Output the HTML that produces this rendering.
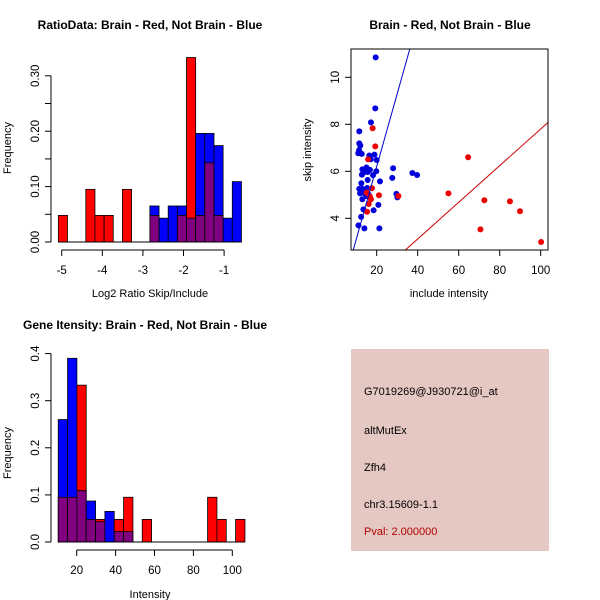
<!DOCTYPE html>
<html><head><meta charset="utf-8">
<style>
html,body{margin:0;padding:0;background:#fff;}
svg{display:block;font-family:"Liberation Sans",sans-serif;}
</style></head>
<body>
<svg id="c" width="600" height="600" viewBox="0 0 600 600" xmlns="http://www.w3.org/2000/svg">
<rect width="600" height="600" fill="#fff"/>
<text x="150" y="29" text-anchor="middle" font-size="12" font-weight="bold">RatioData: Brain - Red, Not Brain - Blue</text>
<text x="450" y="29" text-anchor="middle" font-size="12" font-weight="bold">Brain - Red, Not Brain - Blue</text>
<text x="145" y="329" text-anchor="middle" font-size="12" font-weight="bold">Gene Itensity: Brain - Red, Not Brain - Blue</text>
<g id="h1"></g>
<g id="sc"></g>
<g id="h2"></g>
<g>
<rect x="351" y="349" width="198" height="202" fill="#e6c8c2"/>
<text x="364" y="395" font-size="11">G7019269@J930721@i_at</text>
<text x="364" y="434" font-size="11">altMutEx</text>
<text x="364" y="471" font-size="11">Zfh4</text>
<text x="364" y="508" font-size="11">chr3.15609-1.1</text>
<text x="364" y="535" font-size="11" fill="#b00000">Pval: 2.000000</text>
</g>
</svg>
<script>
// Ratio histogram data
const h1Start = -5.083, h1Width = 0.2255;
const h1Red = [0.048,0,0,0.095,0.048,0.048,0,0.095,0,0,0.048,0,0,0.048,0.333,0.048,0.143,0.048,0,0];
const h1Blue = [0,0,0,0,0,0,0,0,0,0,0.065,0.043,0.065,0.065,0.043,0.196,0.196,0.174,0.043,0.109];
const h1XTicks = [-5,-4,-3,-2,-1];
const h1YTicks = [0,0.05,0.10,0.15,0.20,0.25,0.30];
const h1YLabels = ["0.00","","0.10","","0.20","","0.30"];
// Intensity histogram data
const h2Start = 10.5, h2Width = 4.8;
const h2Red = [0.095,0.095,0.333,0.048,0.048,0,0.048,0.095,0,0.048,0,0,0,0,0,0,0.095,0.048,0,0.048];
const h2Blue = [0.26,0.39,0.109,0.087,0.043,0.065,0.022,0.022,0,0,0,0,0,0,0,0,0,0,0,0];
const h2XTicks = [20,40,60,80,100];
const h2YTicks = [0,0.1,0.2,0.3,0.4];
const h2YLabels = ["0.0","0.1","0.2","0.3","0.4"];
// Scatter data
const blueX = [19.5,19.3,17.2,11.5,11.5,12,11.4,11,12.7,16.4,18.9,20,17.1,13,15,16.7,13.7,12.8,15.6,19.8,18.2,28,27.6,37.4,39.7,15.6,21.6,12.5,11.5,13.1,15.4,11.9,14.3,15.1,16.1,13,29.6,30.1,20.8,13.5,18.5,12.4,11.1,14,21.3];
const blueY = [10.85,8.68,8.08,7.7,7.19,7.1,6.9,6.77,6.74,6.67,6.71,6.48,6.51,6.08,6.16,6.06,5.96,5.86,5.97,6.0,5.83,6.13,5.72,5.93,5.84,5.63,5.57,5.49,5.25,5.25,5.29,5.06,5.05,4.95,5.0,4.81,5.04,4.89,4.57,4.38,4.34,4.06,3.7,3.57,3.57];
const redX = [18,19.3,15.8,64.6,17.7,55,21.1,30.6,15.1,16.7,17.2,16.1,15.3,72.5,85,89.9,70.6,100.2];
const redY = [7.83,7.06,6.51,6.6,5.28,5.06,4.98,4.95,5.09,4.92,4.81,4.61,4.28,4.77,4.72,4.3,3.53,2.99];
const blueSlope = 0.31, redSlope = 0.078;
const scXTicks = [20,40,60,80,100];
const scYTicks = [4,6,8,10];

const NS = "http://www.w3.org/2000/svg";
function mk(parent, tag, attrs, text){
  const e = document.createElementNS(NS, tag);
  for (const k in attrs) e.setAttribute(k, attrs[k]);
  if (text !== undefined) e.textContent = text;
  parent.appendChild(e);
  return e;
}

function hist(g, cfg){
  const {start,width,red,blue,sx,sy,xTicks,yTicks,yLabels,xAxisY,xlabel,xlabelY,ylabelX,ylabelY,yMax} = cfg;
  const base = sy(0);
  for (let i=0;i<red.length;i++){
    const x0 = sx(start+i*width), x1 = sx(start+(i+1)*width);
    const r = red[i], b = blue[i];
    const hi = Math.max(r,b), lo = Math.min(r,b);
    if (hi<=0) continue;
    const col = r>=b ? "#ff0000" : "#0000ff";
    const b1 = mk(g,"rect",{x:x0,y:sy(hi),width:x1-x0,height:base-sy(hi),fill:col,stroke:"#000","stroke-width":0.8});
    
    
    if (lo>0){
      const b2 = mk(g,"rect",{x:x0,y:sy(lo),width:x1-x0,height:base-sy(lo),fill:"#800080",stroke:"#000","stroke-width":0.8});
      
      
    }
  }
  const last = sx(start+red.length*width);
  const bl = mk(g,"line",{x1:sx(start),x2:last,y1:base,y2:base,stroke:"#000"});
  
  
  const ya = mk(g,"line",{x1:51,x2:51,y1:sy(0),y2:sy(yMax),stroke:"#000"});
  
  
  yTicks.forEach((t,i)=>{
    mk(g,"line",{x1:45,x2:51,y1:sy(t),y2:sy(t),stroke:"#000"});
    if (yLabels[i]){
      const tl = mk(g,"text",{x:0,y:0,transform:`translate(39,${sy(t)}) rotate(-90)`,"text-anchor":"middle","font-size":11.5},yLabels[i]);
      
      
    }
  });
  const xa = mk(g,"line",{x1:sx(xTicks[0]),x2:sx(xTicks[xTicks.length-1]),y1:xAxisY,y2:xAxisY,stroke:"#000"});
  
  
  xTicks.forEach(t=>{
    mk(g,"line",{x1:sx(t),x2:sx(t),y1:xAxisY,y2:xAxisY+6,stroke:"#000"});
    const tl = mk(g,"text",{x:sx(t),y:xAxisY+24,"text-anchor":"middle","font-size":11.5},String(t));
    
    
  });
  const xl = mk(g,"text",{x:150,y:xlabelY,"text-anchor":"middle","font-size":11},xlabel);
  
  
  const yl = mk(g,"text",{x:0,y:0,transform:`translate(${ylabelX},${ylabelY}) rotate(-90)`,"text-anchor":"middle","font-size":11},"Frequency");
  
  
}

hist(document.getElementById("h1"),{
  start:h1Start,width:h1Width,red:h1Red,blue:h1Blue,
  sx:v=>61.7+(v+5)*40.6, sy:v=>242-v*554,
  xTicks:h1XTicks,yTicks:h1YTicks,yLabels:h1YLabels,yMax:0.30,
  xAxisY:250,xlabel:"Log2 Ratio Skip/Include",xlabelY:297,ylabelX:11,ylabelY:148
});
hist(document.getElementById("h2"),{
  start:h2Start,width:h2Width,red:h2Red,blue:h2Blue,
  sx:v=>76.7+(v-20)*1.945, sy:v=>542-v*471,
  xTicks:h2XTicks,yTicks:h2YTicks,yLabels:h2YLabels,yMax:0.4,
  xAxisY:550,xlabel:"Intensity",xlabelY:598,ylabelX:11,ylabelY:453
});

(function(){
  const g = document.getElementById("sc");
  const sx = v=>376.7+(v-20)*2.05, sy = v=>218.3-(v-4)*23.5;
  const L=351,R=548,T=49,B=250;
  const clip = mk(g,"clipPath",{id:"scclip"});
  mk(clip,"rect",{x:L,y:T,width:R-L,height:B-T});
  const inner = mk(g,"g",{"clip-path":"url(#scclip)"});
  blueX.forEach((x,i)=>{
    const c = mk(inner,"circle",{cx:sx(x),cy:sy(blueY[i]),r:3,fill:"#0000dd"});
    
    
  });
  redX.forEach((x,i)=>{
    const c = mk(inner,"circle",{cx:sx(x),cy:sy(redY[i]),r:3,fill:"#ee0000"});
    
    
  });
  const xa=0, xb=110;
  const bl = mk(inner,"line",{x1:sx(xa),y1:sy(blueSlope*xa),x2:sx(xb),y2:sy(blueSlope*xb),stroke:"#0000cc"});
  
  
  const rl = mk(inner,"line",{x1:sx(xa),y1:sy(redSlope*xa),x2:sx(xb),y2:sy(redSlope*xb),stroke:"#cc0000"});
  
  
  const box = mk(g,"rect",{x:L,y:T,width:R-L,height:B-T,fill:"none",stroke:"#000"});
  
  
  scXTicks.forEach(t=>{
    mk(g,"line",{x1:sx(t),x2:sx(t),y1:B,y2:B+6,stroke:"#000"});
    const tl = mk(g,"text",{x:sx(t),y:B+24,"text-anchor":"middle","font-size":11.5},String(t));
    
    
  });
  scYTicks.forEach(t=>{
    mk(g,"line",{x1:L-6,x2:L,y1:sy(t),y2:sy(t),stroke:"#000"});
    const tl = mk(g,"text",{x:0,y:0,transform:`translate(339,${sy(t)}) rotate(-90)`,"text-anchor":"middle","font-size":11.5},String(t));
    
    
  });
  const xl = mk(g,"text",{x:449,y:297,"text-anchor":"middle","font-size":11},"include intensity");
  
  
  const yl = mk(g,"text",{x:0,y:0,transform:"translate(311,150) rotate(-90)","text-anchor":"middle","font-size":11},"skip intensity");
  
  
})();
</script>
</body></html>
